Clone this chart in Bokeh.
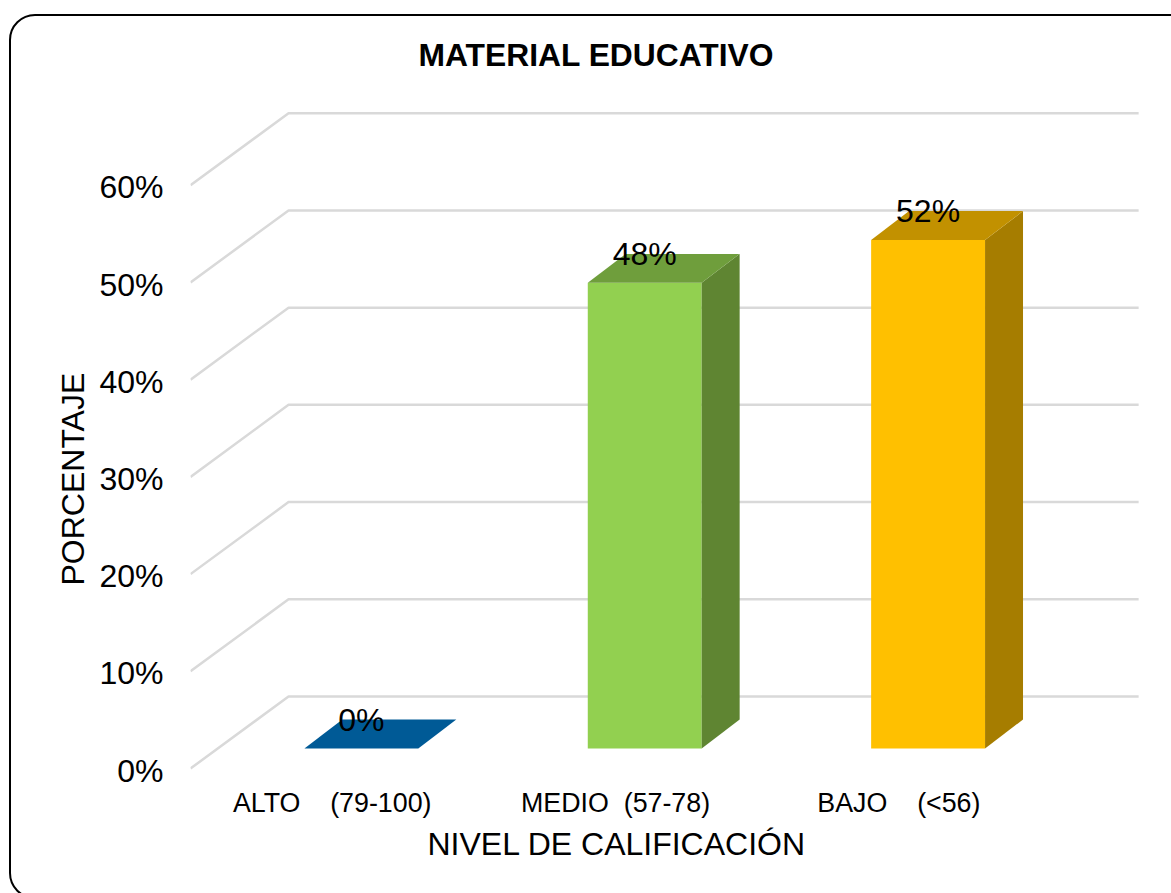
from bokeh.plotting import figure
from bokeh.embed import file_html
from bokeh.resources import INLINE
from bokeh.models import FixedTicker, Title, InlineStyleSheet
from bokeh.core.properties import value

# ---- data ----
NB = "\u00a0"
categories = ["ALTO" + NB * 4 + "(79-100)", "MEDIO" + NB * 2 + "(57-78)", "BAJO" + NB * 4 + "(<56)"]
percent = [0, 47.9, 52.3]
labels = ["0%", "48%", "52%"]
y_ticks = [0, 10, 20, 30, 40, 50, 60]
y_tick_labels = ["0%", "10%", "20%", "30%", "40%", "50%", "60%"]
front_colors = ["#005A96", "#92D050", "#FFC000"]
top_colors = ["#005A96", "#6F9E3C", "#C29100"]
side_colors = ["#004070", "#5F8532", "#A67D00"]
title = "MATERIAL EDUCATIVO"
x_title = "NIVEL DE CALIFICACIÓN"
y_title = "PORCENTAJE"

# ---- 3-D projection constants, in axis units ----
WALL_DX, WALL_DY = 0.346, 7.41      # depth of the floor
BAR_X0, BAR_Y0 = 0.103, 2.06        # bar offset from the front plane
BAR_W = 0.402
BAR_DX, BAR_DY = 0.134, 2.98        # bar depth
LABEL_SHIFT = 0.21                  # tick labels sit a little under their gridline
FONT = "Liberation Sans"

border_css = InlineStyleSheet(css="""
:host { overflow: hidden; }
:host::after {
  content: ""; position: absolute; left: 9px; top: 14px; width: 1400px; height: 885px;
  border: 2px solid #000; border-radius: 26px; pointer-events: none; box-sizing: border-box;
}
""")

p = figure(width=1171, height=893, output_backend="svg", toolbar_location=None,
           x_range=(-0.5, 2.962), y_range=(-0.41, 68.72),
           min_border_left=190, min_border_right=0, min_border_top=100, min_border_bottom=121,
           outline_line_color=None, background_fill_color="white", border_fill_color="white",
           stylesheets=[border_css])
p.grid.visible = False

p.title.text = title
p.title.align = "left"
p.title.offset = 228
p.title.standoff = 56
p.title.text_font = FONT
p.title.text_font_size = "31.8px"
p.title.text_font_style = "bold"
p.title.text_color = "black"

# Axes
label_ticks = [round(t - LABEL_SHIFT, 2) for t in y_ticks]
p.yaxis.ticker = FixedTicker(ticks=label_ticks)
p.yaxis.major_label_overrides = dict(zip(label_ticks, y_tick_labels))
p.yaxis.major_label_text_font = FONT
p.yaxis.major_label_text_font_size = "32px"
p.yaxis.major_label_text_color = "black"
p.yaxis.major_label_standoff = 27
p.xaxis.ticker = FixedTicker(ticks=list(range(len(categories))))
p.xaxis.major_label_overrides = dict(enumerate(categories))
p.xaxis.major_label_text_font = FONT
p.xaxis.major_label_text_font_size = "26.8px"
p.xaxis.major_label_text_color = "black"
p.xaxis.major_label_standoff = 15
for ax in (p.xaxis, p.yaxis):
    ax.axis_line_color = None
    ax.major_tick_line_color = None
    ax.minor_tick_line_color = None
    ax.major_tick_out = 0
    ax.major_tick_in = 0

# Walls
x_left, x_right = -0.5, 2.5
xs = []
ys = []
for t in y_ticks:
    xs.append([x_left, x_left + WALL_DX, x_right + WALL_DX])
    ys.append([t, t + WALL_DY, t + WALL_DY])
p.multi_line(xs, ys, line_color="#D9D9D9", line_width=2.5)

# Bars
for i, v in enumerate(percent):
    x0 = i + BAR_X0 - BAR_W / 2
    x1 = i + BAR_X0 + BAR_W / 2
    y0 = BAR_Y0
    y1 = BAR_Y0 + v
    if v > 0:
        p.quad(left=[x0], right=[x1], bottom=[y0], top=[y1],
               fill_color=front_colors[i], line_color=None)
        p.patch([x1, x1 + BAR_DX, x1 + BAR_DX, x1],
                [y0, y0 + BAR_DY, y1 + BAR_DY, y1],
                fill_color=side_colors[i], line_color=None)
    p.patch([x0, x1, x1 + BAR_DX, x0 + BAR_DX],
            [y1, y1, y1 + BAR_DY, y1 + BAR_DY],
            fill_color=top_colors[i], line_color=None)

# Data labels
p.text(x=[i + BAR_X0 for i in range(len(percent))],
       y=[BAR_Y0 + v + BAR_DY for v in percent],
       text=labels, text_align="center", text_baseline="middle",
       text_font=value(FONT), text_font_size=value("32px"), text_color="black")

# Axis titles
p.add_layout(Title(text=x_title, align="left", offset=237, standoff=6,
                   text_font=FONT, text_font_size="32px", text_font_style="normal",
                   text_color="black"), "below")
p.add_layout(Title(text=y_title, align="left", offset=187, standoff=11,
                   text_font=FONT, text_font_size="32px", text_font_style="normal",
                   text_color="black"), "left")

open("out.html", "w").write(file_html(p, INLINE))
